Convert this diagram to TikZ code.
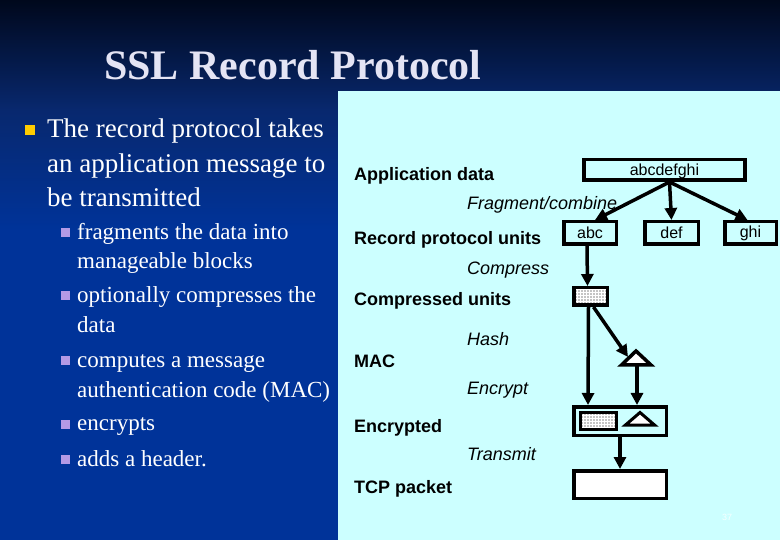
\documentclass[tikz,border=0pt]{standalone}
\usepackage{fontspec}
\setmainfont{Liberation Serif}
\newfontfamily\arialf{Liberation Sans}
\usetikzlibrary{arrows.meta,patterns.meta}
\definecolor{panel}{HTML}{CCFFFF}
\definecolor{bgtop}{RGB}{0,8,28}
\definecolor{bgmid}{RGB}{8,40,110}
\definecolor{bgbot}{RGB}{0,51,153}
\definecolor{titlec}{HTML}{E4E4F4}
\definecolor{bulA}{HTML}{FFCC00}
\definecolor{bulB}{HTML}{B39AE6}
\tikzset{
  lbl/.style={anchor=base west, inner sep=0, font=\arialf\bfseries\fontsize{18}{20}\selectfont},
  op/.style={anchor=base west, inner sep=0, font=\arialf\itshape\fontsize{18}{20}\selectfont},
  box/.style={draw, line width=3.5pt, inner sep=0, font=\arialf\fontsize{16}{18}\selectfont},
  dotbox/.style={box, preaction={fill=white}, pattern={Dots[distance=3pt, radius=0.65pt]}},
  tri/.style={draw, line width=3.5pt, fill=white, line join=miter},
  arr/.style={line width=3.5pt, -{Triangle[length=12pt,width=12pt]}},
  mainline/.style={anchor=base west, inner sep=0, text=white, font=\fontsize{27}{30}\selectfont},
  subline/.style={anchor=base west, inner sep=0, text=white, font=\fontsize{23}{26}\selectfont},
  bigbul/.style={fill=bulA, minimum size=10pt, inner sep=0},
  smallbul/.style={fill=bulB, minimum size=9pt, inner sep=0},
}
\begin{document}
\begin{tikzpicture}[x=1pt,y=-1pt]
\useasboundingbox (0,0) rectangle (780,540);
% background
\shade[top color=bgtop, bottom color=bgmid] (0,0) rectangle (780,110);
\shade[top color=bgmid, bottom color=bgbot] (0,109.5) rectangle (780,230);
\fill[bgbot] (0,229.5) rectangle (780,540);
\fill[panel] (338,91) rectangle (780,540);
% title
\node[anchor=base west, inner sep=0, text=titlec, font=\bfseries\fontsize{42}{46}\selectfont] (title) at (104,80) {SSL Record Protocol};
% bullets
\node[bigbul] (b0) at (30,130) {};
\node[mainline] (m1) at (47,138) {The record protocol takes};
\node[mainline] (m2) at (47,173) {an application message to};
\node[mainline] (m3) at (47,207) {be transmitted};
\node[smallbul] (s1) at (65,233) {};
\node[subline] (t1) at (77,240) {fragments the data into};
\node[subline] (t1b) at (77,269) {manageable blocks};
\node[smallbul] (s2) at (65,296) {};
\node[subline] (t2) at (77,303) {optionally compresses the};
\node[subline] (t2b) at (77,333) {data};
\node[smallbul] (s3) at (65,361) {};
\node[subline] (t3) at (77,368) {computes a message};
\node[subline] (t3b) at (77,397) {authentication code (MAC)};
\node[smallbul] (s4) at (65,424) {};
\node[subline] (t4) at (77,431) {encrypts};
\node[smallbul] (s5) at (65,459) {};
\node[subline] (t5) at (77,466) {adds a header.};
% diagram labels
\node[lbl] (l1) at (354,181) {Application data};
\node[op]  (o1) at (467,210) {Fragment/combine};
\node[lbl] (l2) at (354,245) {Record protocol units};
\node[op]  (o2) at (467,275) {Compress};
\node[lbl] (l3) at (354,306) {Compressed units};
\node[op]  (o3) at (467,345) {Hash};
\node[lbl] (l4) at (354,368) {MAC};
\node[op]  (o4) at (467,395) {Encrypt};
\node[lbl] (l5) at (354,432) {Encrypted};
\node[op]  (o5) at (467,460) {Transmit};
\node[lbl] (l6) at (354,493) {TCP packet};
% boxes
\node[box, minimum width=161pt, minimum height=20.5pt, text depth=-2pt] (app) at (664.5,170) {abcdefghi};
\node[box, minimum width=52.5pt, minimum height=22.5pt] (abc) at (590,233) {abc};
\node[box, minimum width=53.5pt, minimum height=22.5pt] (def) at (671.5,233) {def};
\node[box, minimum width=51.5pt, minimum height=22.5pt] (ghi) at (750.5,233) {ghi};
\node[dotbox, minimum width=33.5pt, minimum height=17.5pt] (cmp) at (590.5,296.5) {};
\node[box, minimum width=92.5pt, minimum height=28.5pt] (enc) at (620,421) {};
\node[dotbox, line width=3pt, minimum width=36pt, minimum height=16.5pt] (encd) at (598.5,421) {};
\node[box, fill=white, minimum width=92.5pt, minimum height=27.5pt] (tcp) at (620,484.5) {};
% triangles
\coordinate (macA) at (636,351);
\coordinate (macBL) at (621.5,365);
\coordinate (macBR) at (651,365);
\draw[tri] (macBL) -- (macA) -- (macBR) -- cycle;
\coordinate (macL) at (628,357);
\coordinate (macB) at (637,366);
\draw[tri, line width=3pt] (625.5,425) -- (640,412.5) -- (654.5,425) -- cycle;
% page number
\node[text=white, font=\arialf\fontsize{9}{10}\selectfont, opacity=0.8] (pg) at (727,517) {37};
% connectors
\draw[arr] ([xshift=5pt]app.south) -- ([xshift=5pt]abc.north);
\draw[arr] ([xshift=5pt]app.south) -- (def.north);
\draw[arr] ([xshift=5pt]app.south) -- ([xshift=-3pt]ghi.north);
\draw[arr] ([xshift=-3pt]abc.south) -- ([xshift=-3pt]cmp.north);
\draw[arr] ([xshift=-2pt]cmp.south) -- ([xshift=-32pt]enc.north);
\draw[arr] ([xshift=3pt]cmp.south) -- (macL);
\draw[arr] (macB) -- (macB |- enc.north);
\draw[arr] (enc.south) -- (tcp.north);
\end{tikzpicture}
\end{document}
